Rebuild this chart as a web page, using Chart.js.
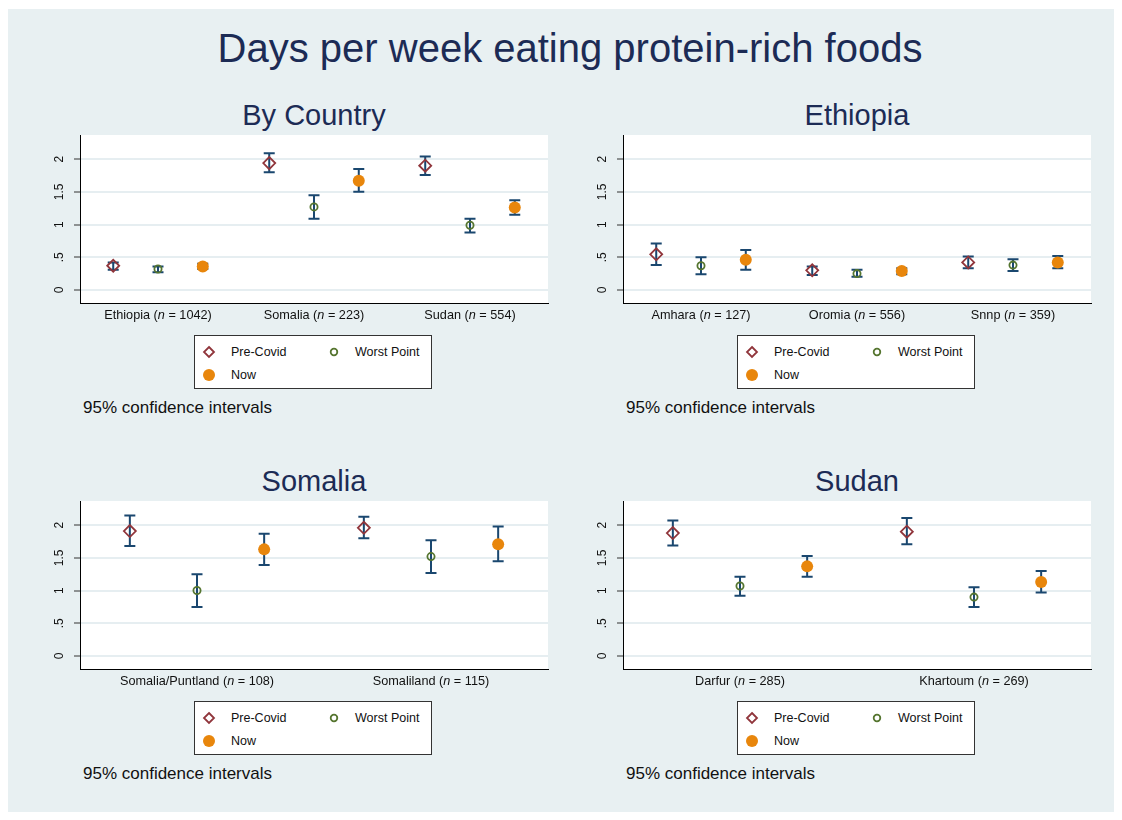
<!DOCTYPE html>
<html>
<head>
<meta charset="utf-8">
<script src="https://cdn.jsdelivr.net/npm/chart.js@4.4.1/dist/chart.umd.min.js"></script>
<style>
  body { margin: 0; background: #fff; font-family: "Liberation Sans", Arial, sans-serif; }
  #page { position: relative; width: 1122px; height: 820px; overflow: hidden; }
  #bg { position: absolute; left: 8px; top: 9px; width: 1106px; height: 803px; background: #e8f0f2; }
  .txt { position: absolute; white-space: nowrap; text-align: center; color: #1c2b55; }
  .panel { position: absolute; }
  .panel canvas { display: block; }
  .legend { position: absolute; width: 236px; height: 52px; background: #fff; border: 1px solid #333; }
  .legend .item { position: absolute; font-size: 12.5px; color: #111; line-height: 14px; }
  .legend svg { position: absolute; }
  .note { position: absolute; font-size: 17px; color: #111; line-height: 20px; }
</style>
</head>
<body>
<div id="page">
  <div id="bg"></div>
  <div class="txt" style="left:0;width:1140px;top:26px;font-size:40px;line-height:44px;">Days per week eating protein-rich foods</div>
</div>

<script>
// tick values and their labels, shared by all four panels
const yTicks = [0, 0.5, 1, 1.5, 2]
const yTickLabels = ['0', '.5', '1', '1.5', '2']
const seriesNames = ['Pre-Covid', 'Worst Point', 'Now']

// By Country
const countryGroups = ['Ethiopia', 'Somalia', 'Sudan']
const countryN = [1042, 223, 554]
const countryPre = [0.37, 1.94, 1.90]
const countryPreCI = [[0.31, 0.42], [1.80, 2.09], [1.76, 2.04]]
const countryWorst = [0.32, 1.27, 0.99]
const countryWorstCI = [[0.27, 0.36], [1.09, 1.45], [0.88, 1.09]]
const countryNow = [0.36, 1.67, 1.26]
const countryNowCI = [[0.32, 0.40], [1.50, 1.85], [1.15, 1.37]]

// Ethiopia
const ethGroups = ['Amhara', 'Oromia', 'Snnp']
const ethN = [127, 556, 359]
const ethPre = [0.545, 0.30, 0.42]
const ethPreCI = [[0.38, 0.71], [0.23, 0.36], [0.33, 0.51]]
const ethWorst = [0.37, 0.25, 0.38]
const ethWorstCI = [[0.24, 0.50], [0.20, 0.31], [0.29, 0.47]]
const ethNow = [0.46, 0.29, 0.42]
const ethNowCI = [[0.31, 0.61], [0.24, 0.33], [0.33, 0.52]]

// Somalia
const somGroups = ['Somalia/Puntland', 'Somaliland']
const somN = [108, 115]
const somPre = [1.91, 1.96]
const somPreCI = [[1.68, 2.15], [1.80, 2.13]]
const somWorst = [1.00, 1.52]
const somWorstCI = [[0.75, 1.25], [1.27, 1.77]]
const somNow = [1.63, 1.71]
const somNowCI = [[1.39, 1.87], [1.45, 1.98]]

// Sudan
const sudGroups = ['Darfur', 'Khartoum']
const sudN = [285, 269]
const sudPre = [1.88, 1.90]
const sudPreCI = [[1.69, 2.07], [1.71, 2.11]]
const sudWorst = [1.07, 0.90]
const sudWorstCI = [[0.92, 1.21], [0.75, 1.05]]
const sudNow = [1.37, 1.13]
const sudNowCI = [[1.21, 1.53], [0.97, 1.30]]


const FONT = '"Liberation Sans", Arial, sans-serif'
const offsets = [-0.287, 0, 0.287]   // position of the three markers inside a group

// white plot region
const plotBg = {
  id: 'plotBg',
  beforeDraw(chart) {
    const a = chart.chartArea
    chart.ctx.save()
    chart.ctx.fillStyle = '#fff'
    chart.ctx.fillRect(a.left, a.top, a.right - a.left, a.bottom - a.top)
    chart.ctx.restore()
  }
}

// vertical CI lines with caps, drawn under the markers
const errorBars = {
  id: 'errorBars',
  beforeDatasetsDraw(chart) {
    const ctx = chart.ctx
    const xs = chart.scales.x, ys = chart.scales.y
    ctx.save()
    ctx.strokeStyle = '#1a476f'
    ctx.lineWidth = 2
    chart.data.datasets.forEach(ds => {
      ds.data.forEach(p => {
        const px = xs.getPixelForValue(p.x)
        const lo = ys.getPixelForValue(p.lo)
        const hi = ys.getPixelForValue(p.hi)
        ctx.beginPath()
        ctx.moveTo(px, lo); ctx.lineTo(px, hi)
        ctx.moveTo(px - 5.5, lo); ctx.lineTo(px + 5.5, lo)
        ctx.moveTo(px - 5.5, hi); ctx.lineTo(px + 5.5, hi)
        ctx.stroke()
      })
    })
    ctx.restore()
  }
}

// rotated y labels and x labels with an italic n
const axisText = {
  id: 'axisText',
  afterDraw(chart, args, opts) {
    const ctx = chart.ctx
    const xs = chart.scales.x, ys = chart.scales.y
    const area = chart.chartArea
    ctx.save()
    ctx.fillStyle = '#111'
    ctx.textBaseline = 'middle'
    ctx.font = '12px ' + FONT
    ctx.textAlign = 'center'
    yTicks.forEach((v, i) => {
      ctx.save()
      ctx.translate(area.left - 20, ys.getPixelForValue(v))
      ctx.rotate(-Math.PI / 2)
      ctx.fillText(yTickLabels[i], 0, 0)
      ctx.restore()
    })
    ctx.textAlign = 'left'
    opts.groups.forEach((g, i) => {
      const parts = [[g + ' (', 'normal'], ['n', 'italic'], [' = ' + opts.n[i] + ')', 'normal']]
      let total = 0
      parts.forEach(p => { ctx.font = p[1] + ' 12.7px ' + FONT; total += ctx.measureText(p[0]).width })
      let x = xs.getPixelForValue(i + 1) - total / 2
      const y = area.bottom + 12
      parts.forEach(p => {
        ctx.font = p[1] + ' 12.7px ' + FONT
        ctx.fillText(p[0], x, y)
        x += ctx.measureText(p[0]).width
      })
    })
    ctx.restore()
  }
}

function points(means, cis, k) {
  return means.map((m, i) => ({ x: i + 1 + offsets[k], y: m, lo: cis[i][0], hi: cis[i][1] }))
}

function makePanel(p) {
  const page = document.getElementById('page')
  // plot area: left p.left, top p.top, 468 x 168
  const wrap = document.createElement('div')
  wrap.className = 'panel'
  wrap.style.left = (p.left - 30) + 'px'
  wrap.style.top = (p.top - 2) + 'px'
  const canvas = document.createElement('canvas')
  canvas.width = 500
  canvas.height = 190
  wrap.appendChild(canvas)
  page.appendChild(wrap)

  const center = p.left + 234

  const title = document.createElement('div')
  title.className = 'txt'
  title.style.cssText = `left:${center - 200}px;width:400px;top:${p.top - 35}px;font-size:29px;line-height:30px;`
  title.textContent = p.title
  page.appendChild(title)

  const leg = document.createElement('div')
  leg.className = 'legend'
  leg.style.left = (center - 120) + 'px'
  leg.style.top = (p.top + 200) + 'px'
  leg.innerHTML =
    `<svg style="left:7px;top:9px" width="14" height="14"><path d="M7 2 L12 7 L7 12 L2 7 Z" fill="none" stroke="#90353b" stroke-width="1.8"/></svg>` +
    `<div class="item" style="left:36px;top:9px">${seriesNames[0]}</div>` +
    `<svg style="left:132px;top:9px" width="14" height="14"><circle cx="7" cy="7" r="3.3" fill="none" stroke="#55752f" stroke-width="1.8"/></svg>` +
    `<div class="item" style="left:160px;top:9px">${seriesNames[1]}</div>` +
    `<svg style="left:6px;top:31px" width="16" height="16"><circle cx="8" cy="8" r="6" fill="#e8860c"/></svg>` +
    `<div class="item" style="left:36px;top:32px">${seriesNames[2]}</div>`
  page.appendChild(leg)

  const note = document.createElement('div')
  note.className = 'note'
  note.style.left = (p.left + 3) + 'px'
  note.style.top = (p.top + 263) + 'px'
  note.textContent = '95% confidence intervals'
  page.appendChild(note)

  new Chart(canvas, {
    type: 'scatter',
    data: {
      datasets: [
        { label: seriesNames[0], data: points(p.pre, p.preCI, 0), pointStyle: 'rectRot', pointRadius: 6,
          borderColor: '#90353b', backgroundColor: 'rgba(0,0,0,0)', borderWidth: 1.8 },
        { label: seriesNames[1], data: points(p.worst, p.worstCI, 1), pointStyle: 'circle', pointRadius: 3.6,
          borderColor: '#55752f', backgroundColor: 'rgba(0,0,0,0)', borderWidth: 1.8 },
        { label: seriesNames[2], data: points(p.now, p.nowCI, 2), pointStyle: 'circle', pointRadius: 6,
          borderColor: '#e8860c', backgroundColor: '#e8860c', borderWidth: 0 }
      ]
    },
    options: {
      responsive: false,
      animation: false,
      events: [],
      layout: { autoPadding: false, padding: { top: 2, right: 2, left: 0, bottom: 0 } },
      plugins: {
        legend: { display: false },
        tooltip: { enabled: false },
        axisText: { groups: p.groups, n: p.n }
      },
      scales: {
        x: {
          type: 'linear', min: 0.5, max: p.groups.length + 0.5,
          ticks: { display: false },
          grid: { display: false },
          border: { display: true, color: '#000', width: 1 },
          afterFit: s => { s.height = 20 }
        },
        y: {
          min: -0.2, max: 2.37,
          afterBuildTicks: s => { s.ticks = yTicks.map(v => ({ value: v })) },
          ticks: { display: false },
          grid: { color: '#e6eef1', lineWidth: 2, tickLength: 6, tickColor: '#333', tickWidth: 1 },
          border: { display: true, color: '#000', width: 1 },
          afterFit: s => { s.width = 30 }
        }
      }
    },
    plugins: [plotBg, errorBars, axisText]
  })
}

makePanel({ title: 'By Country', left: 80, top: 135, groups: countryGroups, n: countryN,
  pre: countryPre, preCI: countryPreCI, worst: countryWorst, worstCI: countryWorstCI, now: countryNow, nowCI: countryNowCI })
makePanel({ title: 'Ethiopia', left: 623, top: 135, groups: ethGroups, n: ethN,
  pre: ethPre, preCI: ethPreCI, worst: ethWorst, worstCI: ethWorstCI, now: ethNow, nowCI: ethNowCI })
makePanel({ title: 'Somalia', left: 80, top: 501, groups: somGroups, n: somN,
  pre: somPre, preCI: somPreCI, worst: somWorst, worstCI: somWorstCI, now: somNow, nowCI: somNowCI })
makePanel({ title: 'Sudan', left: 623, top: 501, groups: sudGroups, n: sudN,
  pre: sudPre, preCI: sudPreCI, worst: sudWorst, worstCI: sudWorstCI, now: sudNow, nowCI: sudNowCI })
</script>
</body>
</html>
